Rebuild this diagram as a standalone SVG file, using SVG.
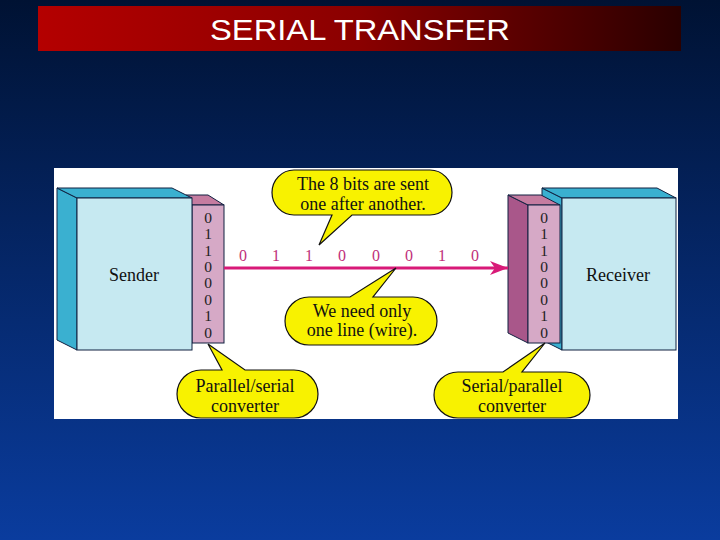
<svg xmlns="http://www.w3.org/2000/svg" width="720" height="540" viewBox="0 0 720 540">
<defs>
<linearGradient id="bg" x1="0" y1="0" x2="0" y2="1">
<stop offset="0" stop-color="#001233"/>
<stop offset="1" stop-color="#0a3c9e"/>
</linearGradient>
<linearGradient id="bar" x1="0" y1="0" x2="1" y2="0">
<stop offset="0" stop-color="#b40000"/>
<stop offset="0.5" stop-color="#8a0000"/>
<stop offset="1" stop-color="#2a0000"/>
</linearGradient>
<marker id="ah" markerWidth="20" markerHeight="14" refX="18" refY="7" orient="auto" markerUnits="userSpaceOnUse">
<path d="M18,7 L0,0 L5,7 L0,14 Z" fill="#d81a78"/>
</marker>
</defs>
<style>
.lbl{font-family:"Liberation Serif","Times New Roman",serif;font-size:18px;fill:#111;text-anchor:middle}
.bit{font-family:"Liberation Serif","Times New Roman",serif;font-size:15.5px;fill:#222;text-anchor:middle}
.sbit{font-family:"Liberation Serif","Times New Roman",serif;font-size:16px;fill:#c0307a;text-anchor:middle}
.teal{fill:#3ab0d0;stroke:#102040;stroke-width:1}
.front{fill:#c6e9f1;stroke:#102040;stroke-width:1}
.pfront{fill:#d6a9c6;stroke:#102040;stroke-width:1}
.ptop{fill:#c57ca0;stroke:#102040;stroke-width:1}
.pside{fill:#a9578a;stroke:#102040;stroke-width:1}
.bubble{fill:#f8f200;stroke:#111;stroke-width:1.2}
</style>
<rect x="0" y="0" width="720" height="540" fill="url(#bg)"/>
<rect x="38" y="6" width="643" height="45" fill="url(#bar)"/>
<text x="360" y="40" font-family="Liberation Sans, Arial, sans-serif" font-size="30" fill="#ffffff" text-anchor="middle" textLength="300" lengthAdjust="spacingAndGlyphs">SERIAL TRANSFER</text>
<rect x="54" y="168" width="624" height="251" fill="#ffffff"/>

<g id="sender-converter">
<polygon class="ptop" points="186,195 208,195 224,205 192,205"/>
<rect class="pfront" x="192" y="205" width="32" height="138"/>
<text class="bit" x="208" y="222.5">0</text>
<text class="bit" x="208" y="239">1</text>
<text class="bit" x="208" y="255.5">1</text>
<text class="bit" x="208" y="272">0</text>
<text class="bit" x="208" y="288">0</text>
<text class="bit" x="208" y="304.5">0</text>
<text class="bit" x="208" y="321">1</text>
<text class="bit" x="208" y="337.5">0</text>
</g>
<g id="sender">
<polygon class="teal" points="57,188 77,198 77,350 57,340"/>
<polygon class="teal" points="57,188 172,188 192,198 77,198"/>
<rect class="front" x="77" y="198" width="115" height="152"/>
<text class="lbl" x="134" y="281">Sender</text>
</g>

<g id="receiver">
<polygon class="teal" points="542,188 562,198 562,350 542,340"/>
<polygon class="teal" points="542,188 657,188 676,198 562,198"/>
<rect class="front" x="562" y="198" width="114" height="152"/>
<text class="lbl" x="618" y="281">Receiver</text>
</g>
<g id="receiver-converter">
<polygon class="pside" points="508,195 528,205 528,343 508,333"/>
<polygon class="ptop" points="508,195 541,195 560,205 528,205"/>
<rect class="pfront" x="528" y="205" width="32" height="138"/>
<text class="bit" x="544" y="222.5">0</text>
<text class="bit" x="544" y="239">1</text>
<text class="bit" x="544" y="255.5">1</text>
<text class="bit" x="544" y="272">0</text>
<text class="bit" x="544" y="288">0</text>
<text class="bit" x="544" y="304.5">0</text>
<text class="bit" x="544" y="321">1</text>
<text class="bit" x="544" y="337.5">0</text>
</g>

<g id="connectors">
<line x1="224" y1="268" x2="508" y2="268" stroke="#d81a78" stroke-width="3" marker-end="url(#ah)"/>
<text class="sbit" x="243" y="261">0</text>
<text class="sbit" x="276" y="261">1</text>
<text class="sbit" x="309" y="261">1</text>
<text class="sbit" x="342" y="261">0</text>
<text class="sbit" x="376" y="261">0</text>
<text class="sbit" x="409" y="261">0</text>
<text class="sbit" x="442" y="261">1</text>
<text class="sbit" x="475" y="261">0</text>
</g>

<g id="callout-bits">
<path class="bubble" d="M294,170 H430 A22,22.5 0 0 1 452,192.5 A22,22.5 0 0 1 430,215 H352 L319,245 L332,215 H294 A22,22.5 0 0 1 272,192.5 A22,22.5 0 0 1 294,170 Z"/>
<text class="lbl" x="363" y="190">The 8 bits are sent</text>
<text class="lbl" x="363" y="210">one after another.</text>
</g>
<g id="callout-line">
<path class="bubble" d="M309,297 H350 L396,268 L373,297 H413 A24,24 0 0 1 437,321 A24,24 0 0 1 413,345 H309 A24,24 0 0 1 285,321 A24,24 0 0 1 309,297 Z"/>
<text class="lbl" x="362" y="317">We need only</text>
<text class="lbl" x="362" y="336">one line (wire).</text>
</g>
<g id="callout-ps">
<path class="bubble" d="M201,370 H222 L208,344 L245,370 H294 A24,24 0 0 1 318,394 A24,24 0 0 1 294,418 H201 A24,24 0 0 1 177,394 A24,24 0 0 1 201,370 Z"/>
<text class="lbl" x="245" y="392">Parallel/serial</text>
<text class="lbl" x="245" y="412">converter</text>
</g>
<g id="callout-sp">
<path class="bubble" d="M458,372 H503 L545,343 L522,372 H566 A24,23 0 0 1 590,395 A24,23 0 0 1 566,418 H458 A24,23 0 0 1 434,395 A24,23 0 0 1 458,372 Z"/>
<text class="lbl" x="512" y="392">Serial/parallel</text>
<text class="lbl" x="512" y="412">converter</text>
</g>
</svg>
